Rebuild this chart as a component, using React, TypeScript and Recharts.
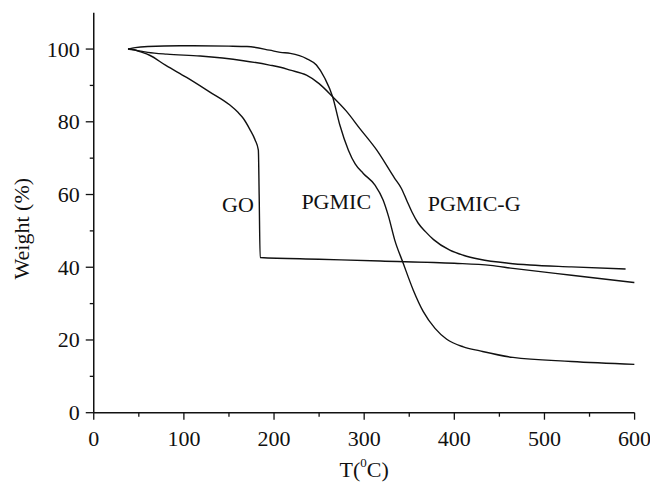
import { LineChart, Line, XAxis, YAxis, ReferenceDot } from "recharts";

const FONT = '"Liberation Serif", "Times New Roman", serif';
const INK = "#111";

// temperature (°C), weight (%)
const goTemp = [38, 45, 51, 62, 80, 103, 128, 151, 160, 166, 173, 179, 182.6, 183.5, 184.6, 250, 318, 400, 440, 465, 530, 600];
const goWeight = [100, 99.8, 99.3, 98.3, 95.5, 92.2, 88.3, 84.6, 82.6, 80.9, 78, 75, 72.2, 60, 42.7, 42.2, 41.7, 41.1, 40.5, 39.7, 37.8, 35.8];

const pgmicTemp = [38, 46, 60, 96, 150, 170, 195, 207, 218, 236, 247, 256.5, 265, 273, 282.5, 290, 299, 312, 321, 327, 334, 343, 354.5, 365.6, 378.6, 391.6, 410, 428.5, 465, 530, 600];
const pgmicWeight = [100, 100.4, 100.7, 100.9, 100.8, 100.7, 99.7, 99.1, 98.8, 97.4, 95.6, 91.9, 86.9, 79.1, 72.2, 68.4, 65.8, 62.6, 58.5, 54, 47.4, 41.3, 33.7, 27.8, 23.2, 20.2, 18.1, 17, 15.2, 14.1, 13.3];

const pgmicGTemp = [38, 46, 60, 81, 118, 166, 195, 207, 218, 236, 250, 265, 280, 295, 314, 334, 341, 347, 353, 360, 368, 377, 395, 410, 428, 460, 484, 530, 590];
const pgmicGWeight = [100, 99.7, 99.1, 98.6, 98.1, 96.8, 95.6, 95, 94.2, 92.8, 90.5, 86.9, 83, 78.2, 72.2, 64.4, 61.8, 58.5, 55.2, 52.1, 49.8, 47.6, 44.7, 43.3, 42.2, 41.1, 40.6, 40.1, 39.5];

const xTicks = [0, 50, 100, 150, 200, 250, 300, 350, 400, 450, 500, 550, 600];
const yTicks = [0, 10, 20, 30, 40, 50, 60, 70, 80, 90, 100];

const curveLabels = [
  { name: "GO", t: 160, w: 57.3 },
  { name: "PGMIC", t: 269, w: 58.2 },
  { name: "PGMIC-G", t: 422, w: 57.5 },
];

const toPoints = (ts: number[], ws: number[]) => ts.map((t, i) => ({ t, w: ws[i] }));

const TICK = 7;
const GAP = 4;

function XTick(props: any) {
  const { x, y, payload } = props;
  const axisY = y - TICK - GAP;
  const major = payload.value % 100 === 0;
  return (
    <g>
      <line x1={x} x2={x} y1={axisY} y2={axisY + (major ? 7 : 4)} stroke={INK} strokeWidth={1.3} />
      {major && (
        <text x={x} y={axisY + 33} textAnchor="middle" fontFamily={FONT} fontSize={22} fill={INK}>
          {payload.value}
        </text>
      )}
    </g>
  );
}

function YTick(props: any) {
  const { x, y, payload } = props;
  const axisX = x + TICK + GAP;
  const major = payload.value % 20 === 0;
  return (
    <g>
      <line x1={axisX - (major ? 8 : 4)} x2={axisX} y1={y} y2={y} stroke={INK} strokeWidth={1.3} />
      {major && (
        <text x={axisX - 14} y={y + 7.5} textAnchor="end" fontFamily={FONT} fontSize={22} fill={INK}>
          {payload.value}
        </text>
      )}
    </g>
  );
}

export default function App() {
  return (
    <div style={{ position: "absolute", left: 0, top: 0, background: "#fff" }}>
      <LineChart
        width={650}
        height={488}
        margin={{ top: 12.7, right: 15.4, left: 33.75, bottom: 15.3 }}
      >
        <XAxis
          xAxisId="b"
          type="number"
          dataKey="t"
          domain={[0, 600]}
          ticks={xTicks}
          interval={0}
          tickSize={TICK}
          tickMargin={GAP}
          tickLine={false}
          tick={<XTick />}
          height={60}
          axisLine={{ stroke: INK, strokeWidth: 1.5 }}
          allowDataOverflow
          label={{
            content: (p: any) => {
              const vb = p.viewBox;
              return (
                <text x={vb.x + vb.width / 2} y={vb.y + 64} textAnchor="middle" fontFamily={FONT} fontSize={22} fill={INK}>
                  T(
                  <tspan fontSize={13} dy={-10}>0</tspan>
                  <tspan dy={10}>C)</tspan>
                </text>
              );
            },
          }}
        />
        <XAxis
          xAxisId="top"
          orientation="top"
          type="number"
          domain={[0, 600]}
          tick={false}
          tickLine={false}
          height={0}
          axisLine={{ stroke: INK, strokeWidth: 1.5 }}
        />
        <YAxis
          yAxisId="l"
          type="number"
          domain={[0, 110]}
          ticks={yTicks}
          interval={0}
          tickSize={TICK}
          tickMargin={GAP}
          tickLine={false}
          tick={<YTick />}
          width={60}
          axisLine={{ stroke: INK, strokeWidth: 1.5 }}
          allowDataOverflow
          label={{
            content: (p: any) => {
              const vb = p.viewBox;
              const cx = 22;
              const cy = vb.y + vb.height / 2 + 16;
              return (
                <text x={cx} y={cy} transform={`rotate(-90 ${cx} ${cy})`} textAnchor="middle" dominantBaseline="central" fontFamily={FONT} fontSize={22} fill={INK}>
                  Weight (%)
                </text>
              );
            },
          }}
        />
        <YAxis
          yAxisId="r"
          orientation="right"
          type="number"
          domain={[0, 110]}
          tick={false}
          tickLine={false}
          width={0}
          axisLine={{ stroke: INK, strokeWidth: 1.5 }}
        />
        <Line
          xAxisId="b"
          yAxisId="l"
          data={toPoints(goTemp, goWeight)}
          dataKey="w"
          type="monotone"
          stroke={INK}
          strokeWidth={1.4}
          dot={false}
          isAnimationActive={false}
        />
        <Line
          xAxisId="b"
          yAxisId="l"
          data={toPoints(pgmicTemp, pgmicWeight)}
          dataKey="w"
          type="monotone"
          stroke={INK}
          strokeWidth={1.4}
          dot={false}
          isAnimationActive={false}
        />
        <Line
          xAxisId="b"
          yAxisId="l"
          data={toPoints(pgmicGTemp, pgmicGWeight)}
          dataKey="w"
          type="monotone"
          stroke={INK}
          strokeWidth={1.4}
          dot={false}
          isAnimationActive={false}
        />
        {curveLabels.map((c) => (
          <ReferenceDot
            key={c.name}
            xAxisId="b"
            yAxisId="l"
            x={c.t}
            y={c.w}
            r={0}
            fill="none"
            stroke="none"
            label={{ value: c.name, position: "center", fontFamily: FONT, fontSize: 22, fill: INK }}
          />
        ))}
      </LineChart>
    </div>
  );
}
